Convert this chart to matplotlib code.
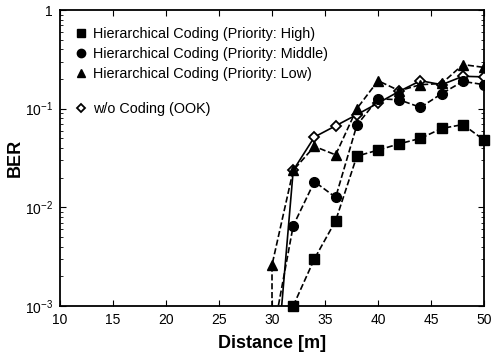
import numpy as np
import matplotlib.pyplot as plt
from matplotlib.lines import Line2D

plt.rcParams['font.family'] = ['Liberation Sans', 'DejaVu Sans']
plt.rcParams['mathtext.fontset'] = 'custom'
plt.rcParams['mathtext.rm'] = 'Liberation Sans'
plt.rcParams['mathtext.default'] = 'regular'

# distance [m]
dist_high = [32, 34, 36, 38, 40, 42, 44, 46, 48, 50]
ber_high = [0.001, 0.0030, 0.0073, 0.033, 0.038, 0.044, 0.050, 0.063, 0.069, 0.048]

dist_mid = [30, 32, 34, 36, 38, 40, 42, 44, 46, 48, 50]
ber_mid = [0.00045, 0.0065, 0.0182, 0.0126, 0.068, 0.126, 0.123, 0.103, 0.142, 0.189, 0.175]

dist_low = [28, 30, 32, 34, 36, 38, 40, 42, 44, 46, 48, 50]
ber_low = [0.0, 0.0026, 0.0237, 0.0414, 0.034, 0.100, 0.192, 0.152, 0.175, 0.180, 0.280, 0.262]

dist_ook = [30, 32, 34, 36, 38, 40, 42, 44, 46, 48, 50]
ber_ook = [0.00007, 0.0237, 0.0516, 0.067, 0.087, 0.114, 0.150, 0.192, 0.175, 0.213, 0.210]

labels = ["Hierarchical Coding (Priority: High)",
          "Hierarchical Coding (Priority: Middle)",
          "Hierarchical Coding (Priority: Low)"]


def main():
    fig = plt.figure(figsize=(4.91, 3.59), dpi=100)
    ax = fig.add_axes([0.122, 0.148, 0.864, 0.824])
    ax.set_yscale('log', nonpositive='clip')

    # coded curves (dashed) and OOK (solid)
    ax.plot(dist_ook, ber_ook, '-', color='black', lw=1.2, marker='D',
            ms=5, mfc='white', mec='black', mew=1.3, zorder=3)
    ax.plot(dist_low, ber_low, '--', color='black', lw=1.2, marker='^', ms=6.5, zorder=4)
    ax.plot(dist_mid, ber_mid, '--', color='black', lw=1.2, marker='o', ms=7, zorder=4)
    ax.plot(dist_high, ber_high, '--', color='black', lw=1.2, marker='s', ms=7,
            zorder=4, clip_on=False)

    ax.set_xlim(10, 50)
    ax.set_ylim(1e-3, 1)
    ax.set_xticks(np.arange(10, 51, 5))
    ax.set_yticks([1e-3, 1e-2, 1e-1, 1])
    ax.set_yticklabels([r'$10^{-3}$', r'$10^{-2}$', r'$10^{-1}$', '1'])
    ax.tick_params(which='both', direction='in', top=True, right=True, labelsize=10)
    ax.tick_params(which='major', length=4, pad=5)
    ax.tick_params(which='minor', length=2)
    for s in ax.spines.values():
        s.set_linewidth(1.3)

    ax.set_xlabel("Distance [m]", fontsize=13, fontweight='bold', labelpad=6)
    ax.set_ylabel("BER", fontsize=13, fontweight='bold')
    ax.yaxis.set_label_coords(-0.085, 0.5)

    # legend: three coded markers, gap, then OOK
    mk = ['s', 'o', '^']
    handles = [Line2D([], [], ls='none', marker=m, color='black', ms=6) for m in mk]
    leg1 = ax.legend(handles, labels, loc='upper left', frameon=False, fontsize=10.4,
                     handletextpad=0.3, handlelength=1.0, labelspacing=0.42,
                     bbox_to_anchor=(0.02, 0.963), borderaxespad=0)
    ax.add_artist(leg1)
    h_ook = Line2D([], [], ls='none', marker='D', ms=4.5, mfc='white', mec='black', mew=1.3)
    ax.legend([h_ook], ["w/o Coding (OOK)"], loc='upper left', frameon=False, fontsize=10.4,
              handletextpad=0.3, handlelength=1.0,
              bbox_to_anchor=(0.02, 0.708), borderaxespad=0)

    fig.savefig("out.png", dpi=100)
    plt.close(fig)


if __name__ == "__main__":
    main()
